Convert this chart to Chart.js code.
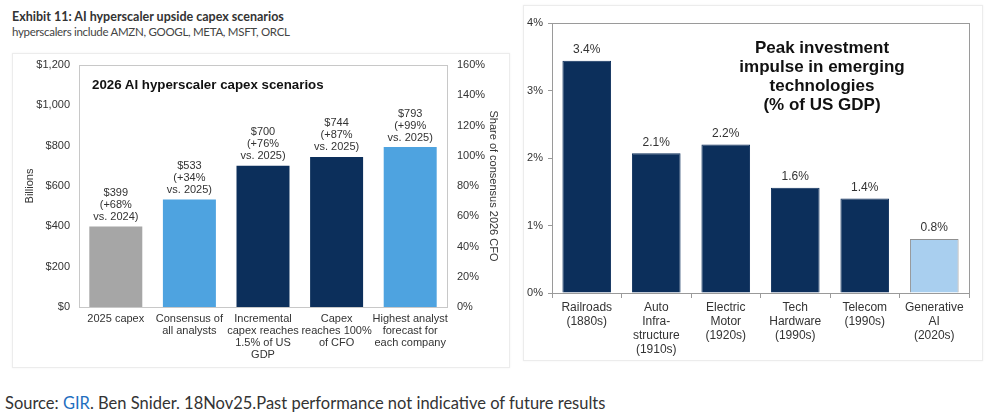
<!DOCTYPE html>
<html>
<head>
<meta charset="utf-8">
<script src="https://cdn.jsdelivr.net/npm/chart.js@4.4.1/dist/chart.umd.min.js"></script>
<style>
  html, body { margin:0; padding:0; background:#fff; width:993px; height:413px; overflow:hidden; position:relative; font-family:"Liberation Sans", Arial, sans-serif; }
  .card { position:absolute; border:1px solid #ececec; box-shadow:0 0 2px rgba(0,0,0,0.06); background:#fff; }
  .abs { position:absolute; }
  #hdr1 { left:12px; top:9px; font:bold 12.5px Lato, sans-serif; color:#333; white-space:nowrap; }
  #hdr2 { left:12px; top:25px; font:11.5px Lato, sans-serif; color:#444; white-space:nowrap; letter-spacing:-0.3px; }
  #leftTitle { left:92px; top:77px; font:bold 13.3px "Liberation Sans", Arial, sans-serif; color:#111; white-space:nowrap; }
  #rightTitle { left:722px; top:38px; width:200px; text-align:center; font:bold 17px "Liberation Sans", Arial, sans-serif; line-height:19px; color:#111; }
  #src { left:5px; top:393px; font:16.5px Lato, sans-serif; color:#333; white-space:nowrap; }
  #src span { color:#1f6fbf; }
</style>
</head>
<body>
<div id="hdr1" class="abs">Exhibit 11: AI hyperscaler upside capex scenarios</div>
<div id="hdr2" class="abs">hyperscalers include AMZN, GOOGL, META, MSFT, ORCL</div>

<div class="card" style="left:12px; top:53px; width:496px; height:313px;"></div>
<div class="card" style="left:523px; top:5px; width:458px; height:354px;"></div>

<div class="abs" style="left:12px; top:53px; width:498px; height:315px;"><canvas id="c1"></canvas></div>
<div class="abs" style="left:515px; top:0px; width:478px; height:365px;"><canvas id="c2"></canvas></div>

<div id="leftTitle" class="abs">2026 AI hyperscaler capex scenarios</div>
<div id="rightTitle" class="abs">Peak investment<br>impulse in emerging<br>technologies<br>(% of US GDP)</div>

<div id="src" class="abs">Source: <span>GIR</span>. Ben Snider. 18Nov25.Past performance not indicative of future results</div>

<script>
// ---- Left chart data ----
const capexCategories = [
  ["2025 capex"],
  ["Consensus of", "all analysts"],
  ["Incremental", "capex reaches", "1.5% of US", "GDP"],
  ["Capex", "reaches 100%", "of CFO"],
  ["Highest analyst", "forecast for", "each company"]
];
const capexValues = [399, 533, 700, 744, 793];
const capexLabels = [
  ["$399", "(+68%", "vs. 2024)"],
  ["$533", "(+34%", "vs. 2025)"],
  ["$700", "(+76%", "vs. 2025)"],
  ["$744", "(+87%", "vs. 2025)"],
  ["$793", "(+99%", "vs. 2025)"]
];
const capexColors = ["#a6a6a6", "#4ea3e0", "#0c2f5b", "#0c2f5b", "#4ea3e0"];
const billionsTicks = [0, 200, 400, 600, 800, 1000, 1200];
const shareTicks = [0, 20, 40, 60, 80, 100, 120, 140, 160];

// ---- Right chart data ----
const techCategories = [
  ["Railroads", "(1880s)"],
  ["Auto", "Infra-", "structure", "(1910s)"],
  ["Electric", "Motor", "(1920s)"],
  ["Tech", "Hardware", "(1990s)"],
  ["Telecom", "(1990s)"],
  ["Generative", "AI", "(2020s)"]
];
const techValues = [3.44, 2.07, 2.20, 1.56, 1.40, 0.80];
const techLabels = ["3.4%", "2.1%", "2.2%", "1.6%", "1.4%", "0.8%"];
const techColors = ["#0c2f5b", "#0c2f5b", "#0c2f5b", "#0c2f5b", "#0c2f5b", "#a9cfef"];
const techBorders = ["#0c2f5b", "#0c2f5b", "#0c2f5b", "#0c2f5b", "#0c2f5b", "#8f8f8f"];
const gdpTicks = [0, 1, 2, 3, 4];

const FONT = "'Liberation Sans', Arial, sans-serif";

function framePlugin(color) {
  return {
    id: 'frame',
    afterDraw(chart) {
      const {ctx, chartArea: a} = chart;
      ctx.save();
      ctx.strokeStyle = color;
      ctx.lineWidth = 1;
      ctx.strokeRect(Math.round(a.left) + 0.5, Math.round(a.top) + 0.5, Math.round(a.right - a.left), Math.round(a.bottom - a.top));
      ctx.restore();
    }
  };
}

function labelPlugin(labels, font, color, gap, lh) {
  return {
    id: 'barLabels',
    afterDatasetsDraw(chart) {
      const {ctx} = chart;
      const meta = chart.getDatasetMeta(0);
      ctx.save();
      ctx.font = font;
      ctx.fillStyle = color;
      ctx.textAlign = 'center';
      ctx.textBaseline = 'middle';
      meta.data.forEach((bar, i) => {
        const lines = Array.isArray(labels[i]) ? labels[i] : [labels[i]];
        const n = lines.length;
        lines.forEach((t, j) => {
          ctx.fillText(t, bar.x, bar.y - gap - (n - 1 - j) * lh);
        });
      });
      ctx.restore();
    }
  };
}

Chart.defaults.font.family = FONT;
Chart.defaults.color = '#333';

new Chart(document.getElementById('c1'), {
  type: 'bar',
  data: {
    labels: capexCategories,
    datasets: [{
      data: capexValues,
      backgroundColor: capexColors,
      borderWidth: 0,
      categoryPercentage: 1,
      barPercentage: 0.72,
      yAxisID: 'y'
    }]
  },
  options: {
    responsive: true,
    maintainAspectRatio: false,
    animation: false,
    devicePixelRatio: 1,
    layout: { padding: { top: 12, left: 0, right: 0, bottom: 0 } },
    plugins: { legend: { display: false }, tooltip: { enabled: false } },
    scales: {
      x: {
        grid: { display: false, drawTicks: false },
        border: { display: true, color: '#c8c8c8' },
        ticks: { padding: 6, color: '#333', font: { size: 11, lineHeight: 1.1 }, maxRotation: 0, autoSkip: false },
        afterFit: s => { s.height = 61; }
      },
      y: {
        position: 'left',
        min: 0, max: 1200,
        afterBuildTicks: s => { s.ticks = billionsTicks.map(v => ({ value: v })); },
        grid: { display: false, drawTicks: false },
        border: { display: false },
        ticks: { padding: 9, color: '#333', font: { size: 11 }, callback: v => '$' + v.toLocaleString('en-US') },
        title: { display: true, text: 'Billions', color: '#333', font: { size: 11 }, padding: { top: 11, bottom: 0 } },
        afterFit: s => { s.width = 67; s.paddingTop = 0; s.paddingBottom = 0; }
      },
      y1: {
        position: 'right',
        min: 0, max: 160,
        afterBuildTicks: s => { s.ticks = shareTicks.map(v => ({ value: v })); },
        grid: { display: false, drawTicks: false },
        border: { display: false },
        ticks: { padding: 10, color: '#333', font: { size: 11 }, callback: v => v + '%' },
        title: { display: true, text: 'Share of consensus 2026 CFO', color: '#333', font: { size: 11 }, padding: { top: 10, bottom: 0 } },
        afterFit: s => { s.width = 63; s.paddingTop = 0; s.paddingBottom = 0; }
      }
    }
  },
  plugins: [framePlugin('#c8c8c8'), labelPlugin(capexLabels, "11px " + FONT, '#333', 9.5, 12)]
});

new Chart(document.getElementById('c2'), {
  type: 'bar',
  data: {
    labels: techCategories,
    datasets: [{
      data: techValues,
      backgroundColor: techColors,
      borderColor: techBorders,
      borderWidth: 1,
      categoryPercentage: 1,
      barPercentage: 0.7
    }]
  },
  options: {
    responsive: true,
    maintainAspectRatio: false,
    animation: false,
    devicePixelRatio: 1,
    layout: { padding: { top: 23, left: 0, right: 24, bottom: 0 } },
    plugins: { legend: { display: false }, tooltip: { enabled: false } },
    scales: {
      x: {
        grid: { display: true, drawOnChartArea: false, drawTicks: true, tickLength: 5, color: '#9a9a9a', offset: true },
        border: { display: true, color: '#9a9a9a' },
        ticks: { padding: 3, color: '#333', font: { size: 12, lineHeight: 1.15 }, maxRotation: 0, autoSkip: false },
        afterFit: s => { s.height = 72; }
      },
      y: {
        min: 0, max: 4,
        afterBuildTicks: s => { s.ticks = gdpTicks.map(v => ({ value: v })); },
        grid: { display: true, drawOnChartArea: false, drawTicks: true, tickLength: 4, color: '#9a9a9a' },
        border: { display: true, color: '#9a9a9a' },
        ticks: { padding: 5, color: '#333', font: { size: 11 }, callback: v => v + '%' },
        afterFit: s => { s.width = 37; }
      }
    }
  },
  plugins: [framePlugin('#9a9a9a'), labelPlugin(techLabels, "12px " + FONT, '#333', 11, 13)]
});
</script>
</body>
</html>
